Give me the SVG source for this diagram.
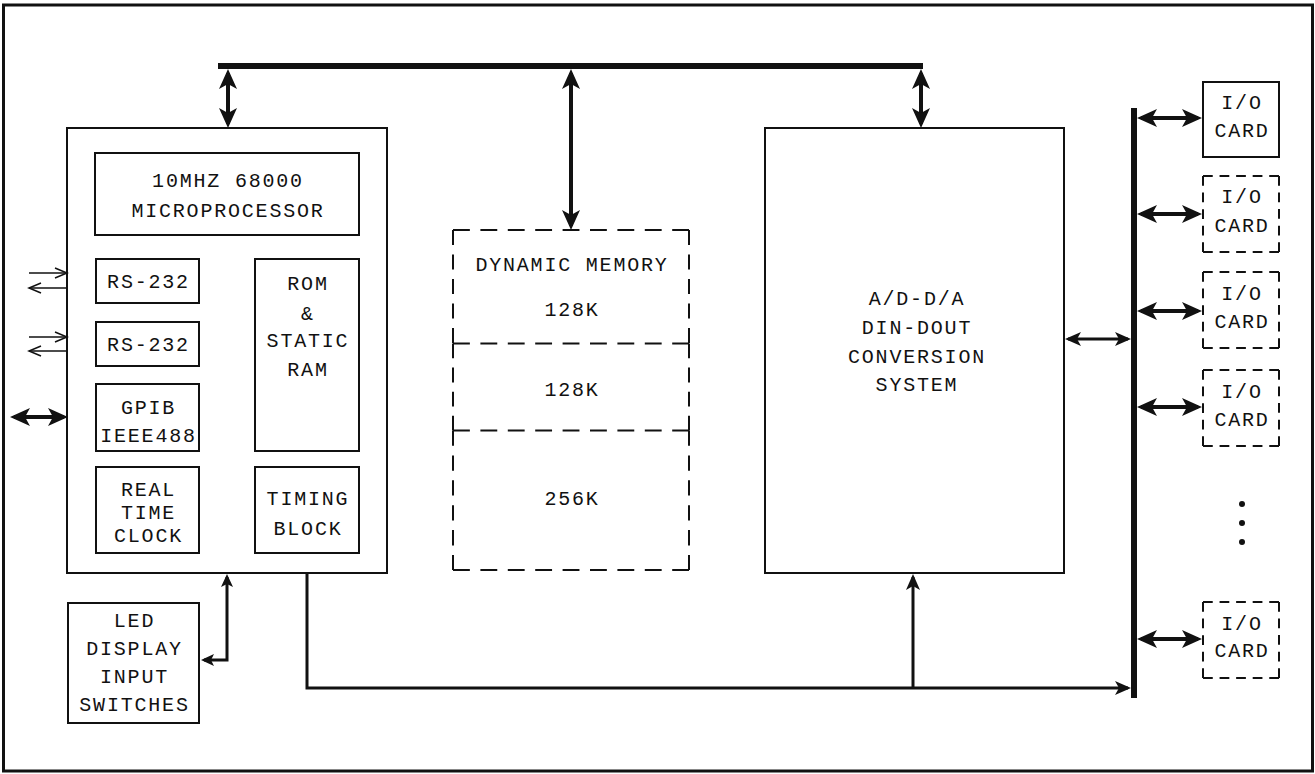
<svg xmlns="http://www.w3.org/2000/svg" width="1315" height="774" viewBox="0 0 1315 774">
<style>
.t{font-family:"Liberation Mono","DejaVu Sans Mono",monospace;font-size:20px;letter-spacing:1.8px;text-anchor:middle;fill:#111}
.box{fill:none;stroke:#111;stroke-width:2}
.dm{fill:none;stroke:#111;stroke-width:2}
.di{fill:none;stroke:#111;stroke-width:2;stroke-dasharray:9.74 6.82}
.c4{fill:none;stroke:#111;stroke-width:4}
.c3{fill:none;stroke:#111;stroke-width:3}
.thin{fill:none;stroke:#111;stroke-width:1.5}
.bus{fill:none;stroke:#111;stroke-width:6}
</style>
<defs>
<marker id="ahL" markerUnits="userSpaceOnUse" viewBox="0 0 20 18" refX="16" refY="9" markerWidth="20" markerHeight="18" orient="auto-start-reverse"><path d="M0,0 L20,9 L0,18 L5,9 z" fill="#111"/></marker>
<marker id="ahM" markerUnits="userSpaceOnUse" viewBox="0 0 16 14" refX="13" refY="7" markerWidth="16" markerHeight="14" orient="auto-start-reverse"><path d="M0,0 L16,7 L0,14 L4,7 z" fill="#111"/></marker>
<marker id="ahS" markerUnits="userSpaceOnUse" viewBox="0 0 13 12" refX="10" refY="6" markerWidth="13" markerHeight="12" orient="auto-start-reverse"><path d="M0,0 L13,6 L0,12 L3,6 z" fill="#111"/></marker>
<marker id="open" markerUnits="userSpaceOnUse" viewBox="-1 -1 14 12" refX="12" refY="5" markerWidth="14" markerHeight="12" orient="auto-start-reverse" overflow="visible"><path d="M0,0 L12,5 L0,10" fill="none" stroke="#111" stroke-width="1.5"/></marker>
</defs>
<rect x="0" y="0" width="1315" height="774" fill="#fff"/>
<rect x="3.5" y="5" width="1309" height="766" fill="none" stroke="#111" stroke-width="3"/>

<g id="cpu">
<rect class="box" x="67" y="128" width="320" height="445"/>
</g>
<g id="microprocessor">
<rect class="box" x="95" y="153" width="264" height="82"/>
<text class="t" x="228" y="187">10MHZ 68000</text>
<text class="t" x="228" y="217">MICROPROCESSOR</text>
</g>
<g id="rs232a">
<rect class="box" x="96" y="259" width="103" height="44"/>
<text class="t" x="148.5" y="288">RS-232</text>
</g>
<g id="rs232b">
<rect class="box" x="96" y="322" width="103" height="44"/>
<text class="t" x="148.5" y="351">RS-232</text>
</g>
<g id="gpib">
<rect class="box" x="96" y="384" width="103" height="67"/>
<text class="t" x="148.5" y="414">GPIB</text>
<text class="t" x="148.5" y="442">IEEE488</text>
</g>
<g id="rtc">
<rect class="box" x="96" y="467" width="103" height="86"/>
<text class="t" x="148.5" y="496">REAL</text>
<text class="t" x="148.5" y="519">TIME</text>
<text class="t" x="148.5" y="542">CLOCK</text>
</g>
<g id="rom">
<rect class="box" x="255" y="259" width="104" height="192"/>
<text class="t" x="308" y="290">ROM</text>
<text class="t" x="308" y="320">&amp;</text>
<text class="t" x="308" y="347">STATIC</text>
<text class="t" x="308" y="376">RAM</text>
</g>
<g id="timing">
<rect class="box" x="255" y="467" width="104" height="86"/>
<text class="t" x="308" y="505">TIMING</text>
<text class="t" x="308" y="535">BLOCK</text>
</g>
<g id="led">
<rect class="box" x="68" y="603" width="131" height="120"/>
<text class="t" x="134.5" y="627">LED</text>
<text class="t" x="134.5" y="655">DISPLAY</text>
<text class="t" x="134.5" y="683">INPUT</text>
<text class="t" x="134.5" y="711">SWITCHES</text>
</g>
<g id="memory">
<path class="dm" d="M453,230 H689" stroke-dasharray="16.86 10.54"/>
<path class="dm" d="M453,343.5 H689" stroke-dasharray="16.86 10.54"/>
<path class="dm" d="M453,430.5 H689" stroke-dasharray="16.86 10.54"/>
<path class="dm" d="M453,570 H689" stroke-dasharray="16.86 10.54"/>
<path class="dm" d="M453,230 V343.5" stroke-dasharray="15.1 9.4"/>
<path class="dm" d="M453,343.5 V430.5" stroke-dasharray="14.8 9.3"/>
<path class="dm" d="M453,430.5 V570" stroke-dasharray="15.3 9.6"/>
<path class="dm" d="M689,230 V343.5" stroke-dasharray="15.1 9.4"/>
<path class="dm" d="M689,343.5 V430.5" stroke-dasharray="14.8 9.3"/>
<path class="dm" d="M689,430.5 V570" stroke-dasharray="15.3 9.6"/>
<text class="t" x="572" y="271">DYNAMIC MEMORY</text>
<text class="t" x="572" y="316">128K</text>
<text class="t" x="572" y="396">128K</text>
<text class="t" x="572" y="505">256K</text>
</g>
<g id="adda">
<rect class="box" x="765" y="128" width="299" height="445"/>
<text class="t" x="917" y="305">A/D-D/A</text>
<text class="t" x="917" y="334">DIN-DOUT</text>
<text class="t" x="917" y="363">CONVERSION</text>
<text class="t" x="917" y="391">SYSTEM</text>
</g>
<g id="io1">
<rect class="box" x="1203" y="82" width="76" height="75"/>
<text class="t" x="1242" y="109">I/O</text>
<text class="t" x="1242" y="137">CARD</text>
</g>
<g id="io2">
<path class="di" d="M1203,176 H1279 M1279,176 V252 M1279,252 H1203 M1203,252 V176"/>
<text class="t" x="1242" y="203">I/O</text>
<text class="t" x="1242" y="232">CARD</text>
</g>
<g id="io3">
<path class="di" d="M1203,272 H1279 M1279,272 V348 M1279,348 H1203 M1203,348 V272"/>
<text class="t" x="1242" y="300">I/O</text>
<text class="t" x="1242" y="328">CARD</text>
</g>
<g id="io4">
<path class="di" d="M1203,370 H1279 M1279,370 V446 M1279,446 H1203 M1203,446 V370"/>
<text class="t" x="1242" y="398">I/O</text>
<text class="t" x="1242" y="426">CARD</text>
</g>
<g id="io5">
<path class="di" d="M1203,602 H1279 M1279,602 V678 M1279,678 H1203 M1203,678 V602"/>
<text class="t" x="1242" y="630">I/O</text>
<text class="t" x="1242" y="657">CARD</text>
</g>
<g id="ellipsis" fill="#111">
<circle cx="1242" cy="504" r="3"/>
<circle cx="1242" cy="523" r="3"/>
<circle cx="1242" cy="542" r="3"/>
</g>

<g id="connectors">
<line class="bus" x1="218" y1="66" x2="923" y2="66"/>
<line class="bus" x1="1134" y1="108" x2="1134" y2="698" stroke-width="5"/>
<line class="c4" x1="228" y1="73" x2="228" y2="124" marker-start="url(#ahL)" marker-end="url(#ahL)"/>
<line class="c4" x1="571" y1="73" x2="571" y2="226" marker-start="url(#ahL)" marker-end="url(#ahL)"/>
<line class="c4" x1="921" y1="73" x2="921" y2="124" marker-start="url(#ahL)" marker-end="url(#ahL)"/>
<line class="c4" x1="14" y1="417" x2="64" y2="417" marker-start="url(#ahL)" marker-end="url(#ahL)"/>
<line class="thin" x1="29" y1="273" x2="67" y2="273" marker-end="url(#open)"/>
<line class="thin" x1="67" y1="288" x2="29" y2="288" marker-end="url(#open)"/>
<line class="thin" x1="29" y1="337" x2="67" y2="337" marker-end="url(#open)"/>
<line class="thin" x1="67" y1="351" x2="29" y2="351" marker-end="url(#open)"/>
<path class="c3" d="M227,577 V660 H204" marker-start="url(#ahS)" marker-end="url(#ahS)"/>
<path class="c3" d="M307,573 V688 H1128" marker-end="url(#ahM)"/>
<line class="c3" x1="913" y1="688" x2="913" y2="577" marker-end="url(#ahM)"/>
<line class="c3" x1="1068" y1="339" x2="1128" y2="339" marker-start="url(#ahM)" marker-end="url(#ahM)"/>
<line class="c4" x1="1141" y1="118" x2="1198" y2="118" marker-start="url(#ahL)" marker-end="url(#ahL)"/>
<line class="c4" x1="1141" y1="214" x2="1198" y2="214" marker-start="url(#ahL)" marker-end="url(#ahL)"/>
<line class="c4" x1="1141" y1="311" x2="1198" y2="311" marker-start="url(#ahL)" marker-end="url(#ahL)"/>
<line class="c4" x1="1141" y1="407" x2="1198" y2="407" marker-start="url(#ahL)" marker-end="url(#ahL)"/>
<line class="c4" x1="1141" y1="639" x2="1198" y2="639" marker-start="url(#ahL)" marker-end="url(#ahL)"/>
</g>
</svg>
